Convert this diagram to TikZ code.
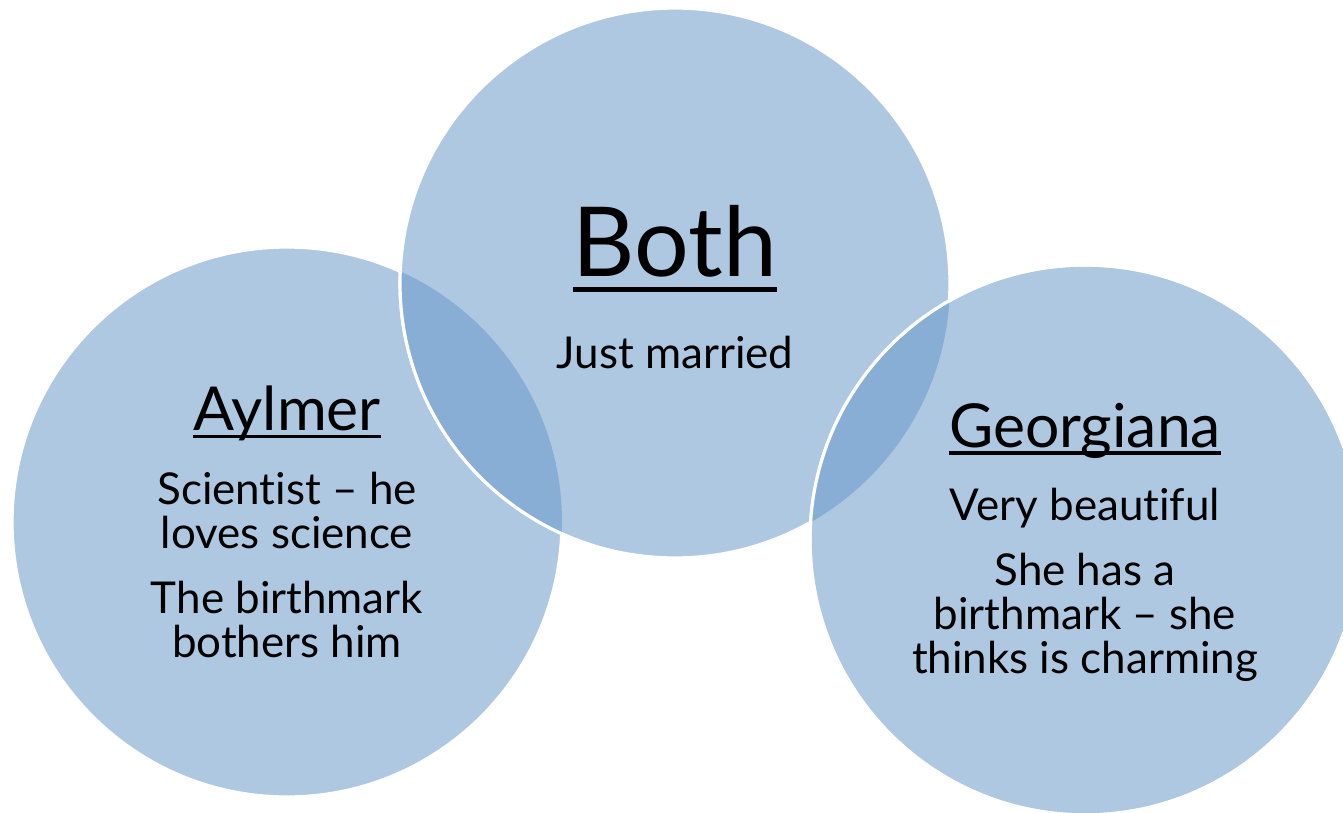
\documentclass[tikz,border=0pt]{standalone}
\usepackage{fontspec}
\setmainfont{Lato}[Ligatures=NoCommon]
\usetikzlibrary{positioning}
\definecolor{vennfill}{HTML}{AFC8E2}
\definecolor{venndark}{HTML}{88AED5}
% underlined heading: #1 drop of rule below baseline, #2 rule thickness
\newcommand{\hdline}[3]{\setbox0\hbox{#3}\leavevmode\rlap{\rule[-#1]{\wd0}{#2}}\box0}
\tikzset{
  venn/.style   = {circle, fill=vennfill, draw=white, line width=1.8pt,
                   minimum size=11cm, inner sep=0pt},
  rim/.style    = {draw=white, line width=1.8pt},
  head/.style   = {anchor=base, inner sep=0pt, font=\fontsize{34.5}{40}\selectfont},
  body/.style   = {anchor=base, inner sep=0pt, align=center,
                   font=\fontsize{25}{25}\selectfont},
}

\begin{document}
\begin{tikzpicture}[x=0.02cm, y=-0.02cm]
  \useasboundingbox (0,0) rectangle (1343,812);

  % the three sets
  \node[venn] (aylmer) at (287,522) {};
  \node[venn] (both) at (675,283) {};
  \node[venn] (georg) at (1085,540) {};

  % overlaps
  \begin{scope}
    \clip (aylmer.center) circle (275);
    \fill[venndark] (both.center) circle (275);
    \draw[rim] (both.center) circle (275);
  \end{scope}
  \begin{scope}
    \clip (both.center) circle (275);
    \fill[venndark] (georg.center) circle (275);
  \end{scope}
  \draw[rim] (georg.center) circle (275);

  % labels (base = last line)
  \node[head, font=\fontsize{55}{60}\selectfont] (bothhd) at (675,276)
       {\hdline{9pt}{2.7pt}{Both}};
  \node[body] (bothtx) at (675,368) {Just married};

  \node[head] (aylhd) at (287,430) {\hdline{4.5pt}{1.8pt}{Aylmer}};
  \node[body] (ayla) at (287,548) {Scientist – he\\loves science};
  \node[body] (aylb) at (287,657) {The birthmark\\bothers him};

  \node[head] (georghd) at (1085,447) {\hdline{4.5pt}{2pt}{Georgiana}};
  \node[body] (georga) at (1085,520) {Very beautiful};
  \node[body] (georgb) at (1085,673) {She has a\\birthmark – she\\thinks is charming};

\end{tikzpicture}
\end{document}
